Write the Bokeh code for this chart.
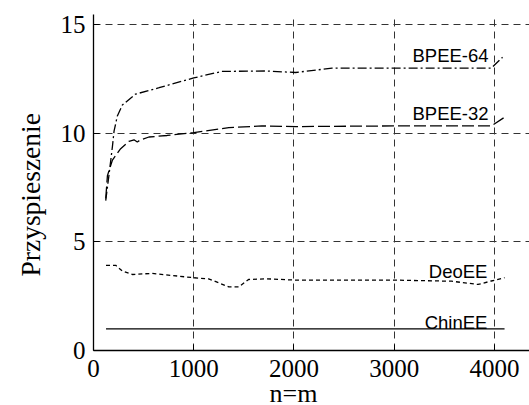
from bokeh.plotting import figure
from bokeh.models import Range1d, FixedTicker, Title
from bokeh.core.properties import value
from bokeh.embed import file_html
from bokeh.resources import INLINE

# ---- data ----
x_bpee64 = [122, 155, 189, 205, 238, 288, 417, 655, 1000, 1280, 1720, 2016, 2380, 3009, 3704, 3969, 4081]
y_bpee64 = [6.9, 8.1, 9.4, 10.1, 10.8, 11.3, 11.8, 12.1, 12.55, 12.85, 12.87, 12.8, 13.0, 13.0, 13.0, 13.0, 13.5]

x_bpee32 = [122, 139, 189, 271, 354, 404, 437, 470, 553, 735, 1000, 1350, 1680, 2016, 3009, 3969, 4101]
y_bpee32 = [7.0, 8.05, 8.77, 9.29, 9.63, 9.7, 9.6, 9.7, 9.83, 9.9, 10.03, 10.26, 10.34, 10.31, 10.34, 10.34, 10.74]

x_deoee = [125, 222, 288, 387, 586, 1000, 1148, 1350, 1450, 1547, 1728, 2016, 3009, 3572, 3836, 3969, 4101]
y_deoee = [3.92, 3.92, 3.66, 3.5, 3.55, 3.35, 3.3, 2.93, 2.93, 3.27, 3.3, 3.24, 3.24, 3.19, 3.04, 3.2, 3.35]

x_chinee = [125, 4101]
y_chinee = [1.0, 1.0]

series_labels = ["BPEE-64", "BPEE-32", "DeoEE", "ChinEE"]
label_x = [3942, 3942, 3930, 3930]
label_y = [13.6, 10.9, 3.62, 1.3]

x_ticks = [0, 1000, 2000, 3000, 4000]
y_ticks = [0, 5, 10, 15]

x_title = "n=m"
y_title = "Przyspieszenie"

SERIF = "Liberation Serif"
SANS = "Liberation Sans"

p = figure(width=529, height=405, output_backend="svg", toolbar_location=None,
           title=None,
           x_range=Range1d(0, 4350), y_range=Range1d(0, 15.47))
p.min_border_left = 91
p.min_border_right = 0
p.min_border_top = 14
p.min_border_bottom = 54
p.outline_line_color = None
p.background_fill_color = "white"
p.border_fill_color = "white"

# grid
for g in (p.xgrid, p.ygrid):
    g.grid_line_color = "#333333"
    g.grid_line_dash = "7 5"
    g.grid_line_width = 1
p.xgrid.ticker = FixedTicker(ticks=x_ticks)
p.ygrid.ticker = FixedTicker(ticks=y_ticks)

# axes
p.xaxis.ticker = FixedTicker(ticks=x_ticks)
p.yaxis.ticker = FixedTicker(ticks=y_ticks)
for ax in (p.xaxis, p.yaxis):
    ax.axis_line_color = "black"
    ax.axis_line_width = 1.3
    ax.major_tick_in = 6
    ax.major_tick_out = 0
    ax.minor_tick_line_color = None
    ax.major_tick_line_color = "black"
    ax.major_label_text_font = SERIF
    ax.major_label_text_font_size = "25px"
    ax.major_label_text_color = "black"
p.xaxis.major_label_standoff = 9
p.yaxis.major_label_standoff = 8

# axis titles as panel titles (offset along the axis like the reference)
p.add_layout(Title(text=x_title, align="left", offset=176, standoff=-5,
                   text_font=SERIF, text_font_size="26px",
                   text_font_style="normal", text_color="black"), "below")
p.add_layout(Title(text=y_title, align="left", offset=74, standoff=24,
                   text_font=SERIF, text_font_size="27.5px",
                   text_font_style="normal", text_color="black"), "left")

# series
p.line(x_chinee, y_chinee, line_color="black", line_width=1.3)
p.line(x_deoee, y_deoee, line_color="black", line_width=1.3, line_dash="4 3")
p.line(x_bpee32, y_bpee32, line_color="black", line_width=1.3, line_dash="12 4")
p.line(x_bpee64, y_bpee64, line_color="black", line_width=1.3, line_dash="9 3 2 3")

p.text(x=label_x, y=label_y, text=series_labels, text_font=value(SANS),
       text_font_size="18.5px", text_align="right", text_baseline="alphabetic",
       text_color="black")

open("out.html", "w").write(file_html(p, INLINE))
